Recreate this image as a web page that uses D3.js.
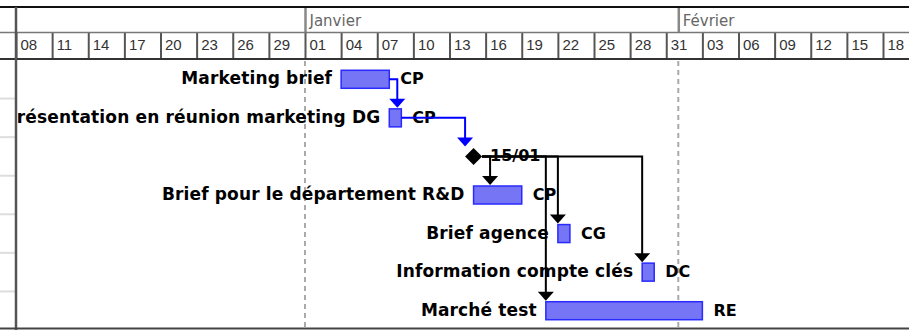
<!DOCTYPE html>
<html lang="fr">
<head>
<meta charset="utf-8">
<title>Diagramme de Gantt</title>
<script src="https://cdn.jsdelivr.net/npm/d3@7"></script>
<style>
  body { margin: 0; background: #fff; }
  svg { display: block; }
  .names text { font-family: "DejaVu Sans", sans-serif; font-weight: bold; font-size: 17px; letter-spacing: 0.15px; fill: #000; }
  .res text { font-family: "DejaVu Sans", sans-serif; font-weight: bold; font-size: 16px; fill: #000; }
  .days text { font-family: "Liberation Sans", Arial, sans-serif; font-size: 15px; fill: #333; }
  .months text { font-family: "DejaVu Sans", sans-serif; font-size: 15px; fill: #666; }
</style>
</head>
<body>
<script>
// Tasks (end == start means milestone)
var taskNames = ["Marketing brief", "Présentation en réunion marketing DG", "Lancement",
                 "Brief pour le département R&D", "Brief agence", "Information compte clés", "Marché test"];
var taskStarts = ["2010-01-04", "2010-01-08", "2010-01-15", "2010-01-15", "2010-01-22", "2010-01-29", "2010-01-21"];
var taskEnds   = ["2010-01-08", "2010-01-09", "2010-01-15", "2010-01-19", "2010-01-23", "2010-01-30", "2010-02-03"];
var taskResources = ["CP", "CP", "", "CP", "CG", "DC", "RE"];

// Dependencies (predecessor index -> successor index)
var linkFrom = [0, 1, 2, 2, 2, 2];
var linkTo   = [1, 2, 3, 4, 5, 6];

// Timescale
var dayTicks = ["2009-12-08", "2009-12-11", "2009-12-14", "2009-12-17", "2009-12-20", "2009-12-23",
                "2009-12-26", "2009-12-29", "2010-01-01", "2010-01-04", "2010-01-07", "2010-01-10",
                "2010-01-13", "2010-01-16", "2010-01-19", "2010-01-22", "2010-01-25", "2010-01-28",
                "2010-01-31", "2010-02-03", "2010-02-06", "2010-02-09", "2010-02-12", "2010-02-15",
                "2010-02-18"];
var monthTicks = ["2010-01-01", "2010-02-01"];
var monthLabels = ["Janvier", "Février"];

var w = 909;
var h = 331;
var parse = d3.timeParse("%Y-%m-%d");

var svg = d3.select("body").append("svg")
            .attr("width", w)
            .attr("height", h);

var x = d3.scaleTime()
          .domain([parse("2009-12-08"), parse("2010-02-18")])
          .range([16, 883]);

var y = d3.scaleBand()
          .domain(d3.range(taskNames.length))
          .range([60, 330]);

function cy(i) { return y(i) + y.bandwidth() / 2; }
function isMs(i) { return taskStarts[i] === taskEnds[i]; }
var msHalf = 8.5;
var barH = 18;

// plot area clip (left pane cuts the labels)
svg.append("clipPath").attr("id", "plot")
   .append("rect").attr("x", 18).attr("y", 0).attr("width", w).attr("height", h);

// ---- header ----
var monthAxis = d3.axisBottom(x)
                  .tickValues(monthTicks.map(parse))
                  .tickSize(25)
                  .tickFormat(function(d, i) { return monthLabels[i]; });
var gMonths = svg.append("g").attr("class", "months")
                 .attr("transform", "translate(0,8)")
                 .call(monthAxis);
gMonths.select(".domain").remove();
gMonths.selectAll(".tick line").attr("stroke", "#888").attr("stroke-width", 2.5);
gMonths.selectAll(".tick text").attr("x", 4).attr("y", 7).attr("dy", "0.71em").attr("text-anchor", "start");

var dayAxis = d3.axisBottom(x)
                .tickValues(dayTicks.map(parse))
                .tickSize(26)
                .tickFormat(d3.timeFormat("%d"));
var gDays = svg.append("g").attr("class", "days")
               .attr("transform", "translate(0,33)")
               .call(dayAxis);
gDays.select(".domain").remove();
gDays.selectAll(".tick line").attr("stroke", "#555").attr("stroke-width", 2);
gDays.selectAll(".tick text").attr("x", 4).attr("y", 6).attr("dy", "0.71em").attr("text-anchor", "start");

// header rules
svg.append("line").attr("x1", 0).attr("x2", w).attr("y1", 7).attr("y2", 7)
   .attr("stroke", "#111").attr("stroke-width", 2);
svg.append("line").attr("x1", 0).attr("x2", w).attr("y1", 32.5).attr("y2", 32.5)
   .attr("stroke", "#777").attr("stroke-width", 1.5);
svg.append("line").attr("x1", 0).attr("x2", w).attr("y1", 59).attr("y2", 59)
   .attr("stroke", "#333").attr("stroke-width", 2);

// ---- grid ----
svg.append("g").selectAll("line")
   .data(monthTicks.map(parse))
   .enter().append("line")
   .attr("x1", function(d) { return x(d); })
   .attr("x2", function(d) { return x(d); })
   .attr("y1", 61).attr("y2", 327)
   .attr("stroke", "#aaa").attr("stroke-width", 2)
   .attr("stroke-dasharray", "5,4");

// row ticks of the left table pane
svg.append("g").selectAll("line")
   .data(d3.range(1, taskNames.length))
   .enter().append("line")
   .attr("x1", 0).attr("x2", 15)
   .attr("y1", function(i) { return y(i); })
   .attr("y2", function(i) { return y(i); })
   .attr("stroke", "#ddd").attr("stroke-width", 2);

// ---- bars ----
var plot = svg.append("g").attr("clip-path", "url(#plot)");
var idx = d3.range(taskNames.length);

plot.append("g").selectAll("rect")
    .data(idx.filter(function(i) { return !isMs(i); }))
    .enter().append("rect")
    .attr("x", function(i) { return x(parse(taskStarts[i])); })
    .attr("y", function(i) { return cy(i) - barH / 2; })
    .attr("width", function(i) { return x(parse(taskEnds[i])) - x(parse(taskStarts[i])); })
    .attr("height", barH)
    .attr("fill", "#7575f6")
    .attr("stroke", "#2a2aff")
    .attr("stroke-width", 1.5);

plot.append("g").selectAll("path")
    .data(idx.filter(isMs))
    .enter().append("path")
    .attr("d", function(i) {
        var cx = x(parse(taskStarts[i])), c = cy(i);
        return "M" + (cx - msHalf) + "," + c + "L" + cx + "," + (c - msHalf) +
               "L" + (cx + msHalf) + "," + c + "L" + cx + "," + (c + msHalf) + "Z";
    })
    .attr("fill", "#000");

// task names on the left of the bars
plot.append("g").attr("class", "names").selectAll("text")
    .data(idx.filter(function(i) { return !isMs(i); }))
    .enter().append("text")
    .attr("x", function(i) { return x(parse(taskStarts[i])) - 9; })
    .attr("y", function(i) { return cy(i) + 5; })
    .attr("text-anchor", "end")
    .text(function(i) { return taskNames[i]; });

// resources / milestone date on the right
var fmtMs = d3.timeFormat("%d/%m");
plot.append("g").attr("class", "res").selectAll("text")
    .data(idx)
    .enter().append("text")
    .attr("x", function(i) {
        return isMs(i) ? x(parse(taskStarts[i])) + msHalf + 8 : x(parse(taskEnds[i])) + 11;
    })
    .attr("y", function(i) { return cy(i) + 5; })
    .text(function(i) { return isMs(i) ? fmtMs(parse(taskStarts[i])) : taskResources[i]; });

// ---- links ----
var links = linkFrom.map(function(f, k) {
    var t = linkTo[k];
    var predRight = isMs(f) ? x(parse(taskStarts[f])) + msHalf : x(parse(taskEnds[f]));
    var succLeft = isMs(t) ? x(parse(taskStarts[t])) - msHalf : x(parse(taskStarts[t]));
    var drop = Math.max(succLeft, predRight + 8);
    var tip = cy(t) - 10;
    return { x0: predRight, y0: cy(f), xd: drop, tip: tip, color: isMs(f) ? "#000" : "#0000ff" };
});

var gLinks = plot.append("g");
gLinks.selectAll("path.line")
      .data(links)
      .enter().append("path")
      .attr("class", "line")
      .attr("d", function(d) { return "M" + d.x0 + "," + d.y0 + "H" + d.xd + "V" + (d.tip - 8); })
      .attr("fill", "none")
      .attr("stroke", function(d) { return d.color; })
      .attr("stroke-width", 2);
gLinks.selectAll("path.head")
      .data(links)
      .enter().append("path")
      .attr("class", "head")
      .attr("d", function(d) {
          return "M" + (d.xd - 8) + "," + (d.tip - 9) + "L" + (d.xd + 8) + "," + (d.tip - 9) +
                 "L" + d.xd + "," + d.tip + "Z";
      })
      .attr("fill", function(d) { return d.color; });

// frame
svg.append("line").attr("x1", 16).attr("x2", 16).attr("y1", 7).attr("y2", 330)
   .attr("stroke", "#555").attr("stroke-width", 2.5);
svg.append("line").attr("x1", 0).attr("x2", w).attr("y1", 328.5).attr("y2", 328.5)
   .attr("stroke", "#444").attr("stroke-width", 2);
</script>
</body>
</html>
